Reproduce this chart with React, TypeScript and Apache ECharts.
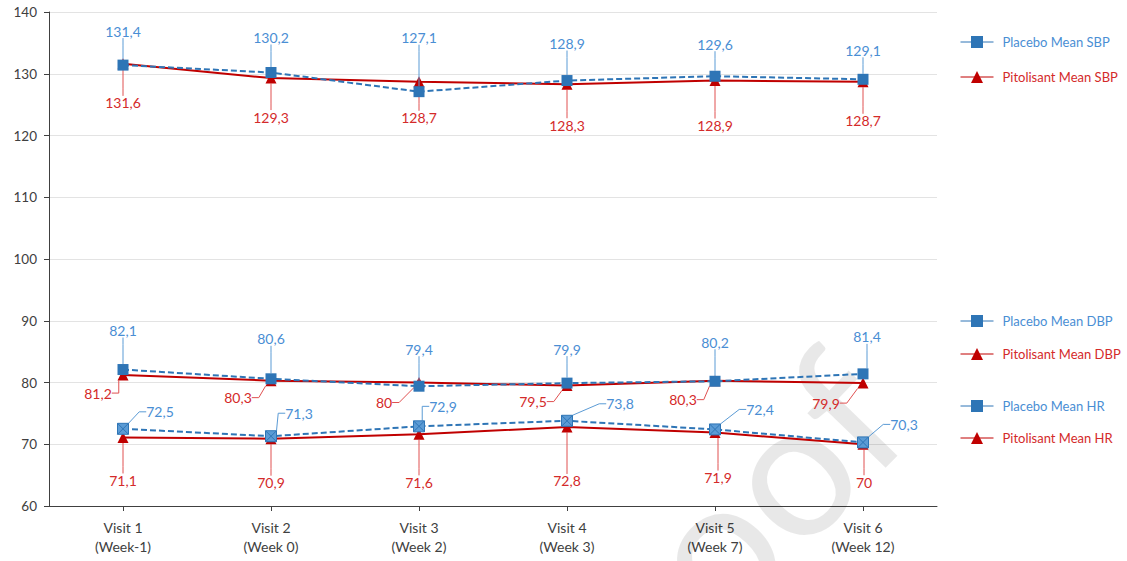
import React, { useEffect, useRef } from "react";
import * as echarts from "echarts";

const visits = ["Visit 1", "Visit 2", "Visit 3", "Visit 4", "Visit 5", "Visit 6"];
const weeks = ["(Week-1)", "(Week 0)", "(Week 2)", "(Week 3)", "(Week 7)", "(Week 12)"];

const placeboSBP = [131.4, 130.2, 127.1, 128.9, 129.6, 129.1];
const pitolisantSBP = [131.6, 129.3, 128.7, 128.3, 128.9, 128.7];
const placeboDBP = [82.1, 80.6, 79.4, 79.9, 80.2, 81.4];
const pitolisantDBP = [81.2, 80.3, 80, 79.5, 80.3, 79.9];
const placeboHR = [72.5, 71.3, 72.9, 73.8, 72.4, 70.3];
const pitolisantHR = [71.1, 70.9, 71.6, 72.8, 71.9, 70];

const yTicks = { min: 60, max: 140, interval: 10 };

// label offsets (dx, dy) from each point to its label centre
const offPlaceboSBP = [[0, -34], [0, -35], [0, -54], [0, -37], [0, -32], [0, -29]];
const offPitolisantSBP = [[0, 39], [0, 39], [0, 36], [0, 41], [0, 45], [0, 39]];
const offPlaceboDBP = [[0, -39], [0, -40], [0, -37], [0, -34], [0, -39], [4, -37]];
const offPitolisantDBP = [[-25, 18], [-33, 17], [-35, 20], [-34, 16], [-32, 19], [-37, 20]];
const offPlaceboHR = [[37, -17], [28, -23], [24, -20], [53, -17], [45, -20], [41, -18]];
const offPitolisantHR = [[0, 43], [0, 44], [0, 48], [0, 54], [3, 45], [1, 38]];

const BLUE = "#2E75B6";
const BLUE_LIGHT = "#5B9BD5";
const BLUE_TEXT = "#4A8ED4";
const RED = "#C00000";
const RED_TEXT = "#D42A2A";
const RED_LEADER = "#E05050";
const FONT = "Lato";

const fmt = (p: any) => String(p.value).replace(".", ",");

function makeSeries(
  name: string,
  data: number[],
  offsets: number[][],
  kind: "placebo" | "pito",
  symbol: string,
  symbolColor: string,
  extraItem: any = {}
) {
  const isP = kind === "placebo";
  return {
    name,
    type: "line",
    data,
    symbol,
    symbolSize: 11,
    showAllSymbol: true,
    lineStyle: {
      color: isP ? BLUE : RED,
      width: 2,
      type: isP ? [6, 3] : "solid",
    },
    itemStyle: { color: symbolColor, ...extraItem },
    z: isP ? 4 : 3,
    label: {
      show: true,
      position: "inside",
      formatter: fmt,
      color: isP ? BLUE_TEXT : RED_TEXT,
      fontSize: 14,
      fontFamily: FONT,
    },
    labelLine: {
      show: true,
      length2: 7,
      lineStyle: { color: isP ? BLUE_LIGHT : RED_LEADER, width: 1 },
    },
    labelLayout: (params: any) => ({
      dx: offsets[params.dataIndex][0],
      dy: offsets[params.dataIndex][1],
    }),
  };
}

const legendDefs = [
  { name: "Placebo Mean SBP", top: 43, color: BLUE_TEXT },
  { name: "Pitolisant Mean SBP", top: 78, color: RED_TEXT },
  { name: "Placebo Mean DBP", top: 322, color: BLUE_TEXT },
  { name: "Pitolisant Mean DBP", top: 355, color: RED_TEXT },
  { name: "Placebo Mean HR", top: 407, color: BLUE_TEXT },
  { name: "Pitolisant Mean HR", top: 439, color: RED_TEXT },
];

export default function App() {
  const ref = useRef<HTMLDivElement>(null);
  useEffect(() => {
    document.body.style.margin = "0";
    if (!ref.current) return;
    const chart = echarts.init(ref.current, null, { renderer: "svg" });
    const categories = visits.map((v, i) => v + "\n" + weeks[i]);
    const xPath = "path://M0 0H10V10H0Z M0 0L10 10 M10 0L0 10";
    chart.setOption({
      animation: false,
      backgroundColor: "#ffffff",
      textStyle: { fontFamily: FONT },
      grid: { left: 49, right: 190, top: 12, bottom: 55 },
      graphic: [
        {
          type: "text",
          x: 708,
          y: 545,
          rotation: (46 * Math.PI) / 180,
          z: 1,
          silent: true,
          style: {
            text: "proof",
            fontSize: 190,
            fontFamily: FONT,
            fill: "rgba(0,0,0,0.09)",
            align: "center",
            verticalAlign: "middle",
          },
        },
      ],
      legend: legendDefs.map((l) => ({
        data: [l.name],
        left: 960,
        top: l.top - 7.5,
        padding: 0,
        itemWidth: 33,
        itemHeight: 15,
        selectedMode: false,
        textStyle: { color: l.color, fontSize: 13, fontFamily: FONT, padding: [0, 0, 0, 4] },
        lineStyle: { width: 1, type: "solid" },
        itemStyle:
          l.name === "Placebo Mean HR" ? { color: BLUE, borderWidth: 0 } : { borderWidth: 0 },
      })),
      xAxis: {
        type: "category",
        data: categories,
        boundaryGap: true,
        axisLine: { lineStyle: { color: "#404040", width: 1 } },
        axisTick: { show: true, alignWithLabel: true, length: 5, lineStyle: { color: "#404040" } },
        axisLabel: { color: "#404040", fontSize: 14, fontFamily: FONT, lineHeight: 19, margin: 12 },
        splitLine: { show: false },
      },
      yAxis: {
        type: "value",
        min: yTicks.min,
        max: yTicks.max,
        interval: yTicks.interval,
        axisLine: { show: true, lineStyle: { color: "#404040", width: 1 } },
        axisTick: { show: true, length: 5, lineStyle: { color: "#404040" } },
        axisLabel: { color: "#404040", fontSize: 13.5, fontFamily: FONT, margin: 12 },
        splitLine: { show: true, lineStyle: { color: "#e3e3e3", width: 1 } },
      },
      series: [
        makeSeries("Pitolisant Mean SBP", pitolisantSBP, offPitolisantSBP, "pito", "triangle", RED),
        makeSeries("Placebo Mean SBP", placeboSBP, offPlaceboSBP, "placebo", "rect", BLUE),
        makeSeries("Pitolisant Mean DBP", pitolisantDBP, offPitolisantDBP, "pito", "triangle", RED),
        makeSeries("Placebo Mean DBP", placeboDBP, offPlaceboDBP, "placebo", "rect", BLUE),
        makeSeries("Pitolisant Mean HR", pitolisantHR, offPitolisantHR, "pito", "triangle", RED),
        makeSeries("Placebo Mean HR", placeboHR, offPlaceboHR, "placebo", xPath, BLUE_LIGHT, {
          borderColor: BLUE,
          borderWidth: 1,
        }),
      ],
    });
    return () => chart.dispose();
  }, []);
  return <div ref={ref} style={{ width: 1127, height: 561 }} />;
}
